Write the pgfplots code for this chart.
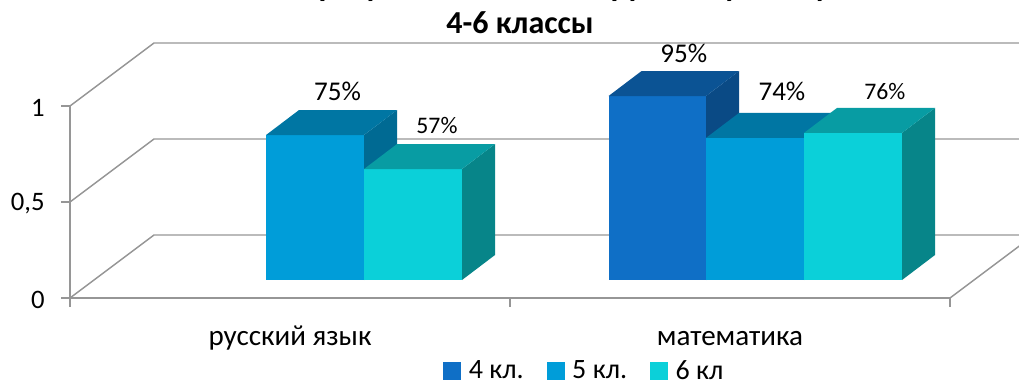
\documentclass[border=0pt]{standalone}
\usepackage{pgfplots}
\pgfplotsset{compat=1.18}
\usepackage{fontspec}
\setmainfont{Carlito}
\definecolor{gridc}{HTML}{969696}
\definecolor{aF}{HTML}{0F6FC6}\definecolor{aT}{HTML}{0B5394}\definecolor{aS}{HTML}{0A4A85}
\definecolor{bF}{HTML}{009DD9}\definecolor{bT}{HTML}{0076A3}\definecolor{bS}{HTML}{006A93}
\definecolor{cF}{HTML}{0BD0D9}\definecolor{cT}{HTML}{089CA3}\definecolor{cS}{HTML}{078589}
% #1 left, #2 right (category units), #3 value, #4 series colour prefix
\newcommand\threedbar[4]{%
  \addplot[fill=#4F,draw=none,forget plot] coordinates {({#1},0.09375) ({#2},0.09375) ({#2},{0.09375+#3}) ({#1},{0.09375+#3})};
  \addplot[fill=#4S,draw=none,forget plot] coordinates {({#2},0.09375) ({#2+0.075},0.22396) ({#2+0.075},{0.22396+#3}) ({#2},{0.09375+#3})};
  \addplot[fill=#4T,draw=none,forget plot] coordinates {({#1},{0.09375+#3}) ({#2},{0.09375+#3}) ({#2+0.075},{0.22396+#3}) ({#1+0.075},{0.22396+#3})};
}
\newcommand\wall[1]{%
  \addplot[gridc,line width=1.1pt,forget plot] coordinates {(0,#1) (0.19091,{#1+0.328125}) (2.4,{#1+0.328125})};
}
\newcommand\legsq[1]{\addlegendimage{legend image code/.code={\fill[#1] (0pt,-6.2pt) rectangle (12.75pt,6.2pt);}}}
\begin{document}
\begin{tikzpicture}
\path[use as bounding box] (-52.5pt,-61.5pt) rectangle (711.75pt,223.5pt);
\clip (-52.5pt,-61.5pt) rectangle (711.75pt,223.5pt);
\begin{axis}[
  at={(0,0)},anchor=origin,
  scale only axis,width=660pt,height=144pt,
  xmin=0,xmax=2,ymin=0,ymax=1,
  clip=false,
  axis lines=left,
  axis line style={gridc,line width=1.1pt,-},
  tick style={gridc,line width=1.1pt},
  tick align=outside,
  major tick length=6.5pt,
  xtick={0,1,2},xticklabels={,,},
  extra x ticks={0.5,1.5},
  extra x tick labels={\strut русский язык,\strut математика},
  extra x tick style={major tick length=0pt,tick label style={yshift=-14.5pt,font=\fontsize{21.8}{25}\selectfont}},
  ytick={0,0.5,1},yticklabels={0,{0,5},1},
  yticklabel style={xshift=-9pt,yshift=-1.5pt,font=\fontsize{20}{24}\selectfont},
  tick label style={text=black},
  title={Анализ результатов теста по русскому языку\\4-6 классы},
  title style={at={(0.5114,1.335)},anchor=south,inner sep=0pt,align=center,font=\fontsize{24}{27.4}\selectfont\bfseries},
  legend columns=3,
  legend style={at={(0.4239,-0.38)},anchor=west,draw=none,fill=none,inner sep=0pt,font=\fontsize{21}{24}\selectfont,
    /tikz/every odd column/.style={column sep=4pt},
    /tikz/every even column/.style={column sep=15.25pt}},
  legend cell align=left,
]
\wall{0}\wall{0.5}\wall{1}
\addplot[gridc,line width=1.1pt,forget plot] coordinates {(2,0) (2.19091,0.328125)};
% русский язык
\threedbar{0.44545}{0.66818}{0.755}{b}
\threedbar{0.66818}{0.89091}{0.578}{c}
% математика
\threedbar{1.22386}{1.44545}{0.958}{a}
\threedbar{1.44545}{1.66818}{0.74}{b}
\threedbar{1.66818}{1.89091}{0.766}{c}
\legsq{aF}\addlegendentry{4 кл.}
\legsq{bF}\addlegendentry{5 кл.}
\legsq{cF}\addlegendentry{6 кл}
\foreach \x/\y/\t/\s in {0.608/1.078/75\%/20.3,0.834/0.898/57\%/17.8,1.395/1.276/95\%/20.3,1.618/1.078/74\%/20.3,1.852/1.078/76\%/17.8}{
  \edef\tmp{\noexpand\node[font=\noexpand\fontsize{\s}{20}\noexpand\selectfont,text=black] at (axis cs:\x,\y) {\t};}
  \tmp
}
\end{axis}
\end{tikzpicture}
\end{document}
